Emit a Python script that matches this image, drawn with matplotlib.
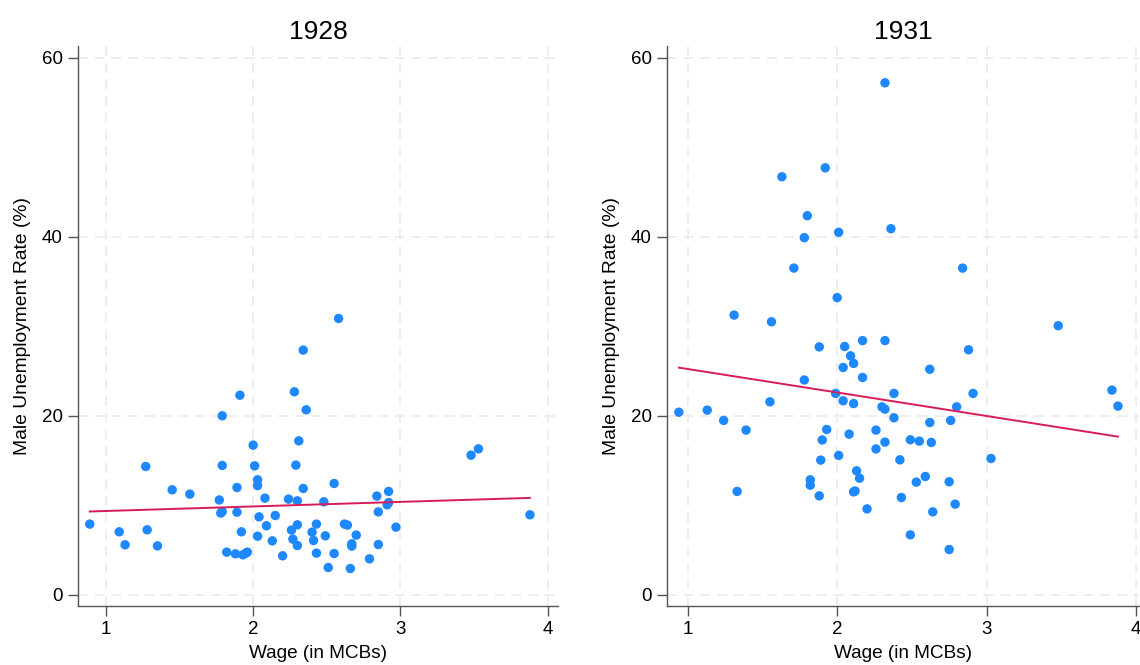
import numpy as np
import matplotlib
matplotlib.use("Agg")
import matplotlib.pyplot as plt

plt.rcParams['font.family'] = ['Liberation Sans', 'DejaVu Sans']

# ---- data: 1928 ----
wage_1928 = [0.89, 1.09, 1.13, 1.27, 1.28, 1.35, 1.45, 1.57, 1.77, 1.78, 1.79, 1.79, 1.79,
             1.82, 1.88, 1.89, 1.89, 1.91, 1.92, 1.93, 1.95, 1.96, 2.00, 2.01, 2.03, 2.03,
             2.03, 2.04, 2.08, 2.09, 2.13, 2.15, 2.20, 2.24, 2.26, 2.27, 2.28, 2.29, 2.30,
             2.30, 2.30, 2.31, 2.34, 2.34, 2.36, 2.40, 2.41, 2.43, 2.43, 2.48, 2.49, 2.51,
             2.55, 2.55, 2.58, 2.62, 2.64, 2.66, 2.67, 2.67, 2.70, 2.79, 2.84, 2.85, 2.85,
             2.91, 2.92, 2.92, 2.97, 3.48, 3.53, 3.88]
unemp_1928 = [7.9, 7.04, 5.59, 14.34, 7.26, 5.47, 11.73, 11.25, 10.6, 9.13, 9.3, 20.0, 14.45,
              4.77, 4.58, 11.99, 9.23, 22.3, 7.04, 4.47, 4.65, 4.77, 16.72, 14.41, 12.85, 12.2,
              6.55, 8.71, 10.8, 7.71, 6.03, 8.86, 4.36, 10.69, 7.23, 6.22, 22.68, 14.49, 7.82,
              5.51, 10.5, 17.2, 11.88, 27.34, 20.67, 7.0, 6.07, 7.9, 4.66, 10.39, 6.59, 3.05,
              12.44, 4.61, 30.87, 7.9, 7.79, 2.94, 5.7, 5.44, 6.67, 4.02, 11.03, 9.27, 5.62,
              10.06, 10.31, 11.55, 7.56, 15.6, 16.31, 8.94]

# ---- data: 1931 ----
wage_1931 = [0.94, 1.13, 1.24, 1.31, 1.33, 1.39, 1.55, 1.56, 1.63, 1.71, 1.78, 1.78, 1.80,
             1.82, 1.82, 1.88, 1.88, 1.89, 1.90, 1.92, 1.93, 1.99, 2.00, 2.01, 2.01, 2.04,
             2.04, 2.05, 2.08, 2.09, 2.11, 2.11, 2.11, 2.12, 2.13, 2.15, 2.17, 2.17, 2.20,
             2.26, 2.26, 2.30, 2.32, 2.32, 2.32, 2.32, 2.36, 2.38, 2.38, 2.42, 2.43, 2.49,
             2.49, 2.53, 2.55, 2.59, 2.62, 2.62, 2.63, 2.64, 2.75, 2.75, 2.76, 2.79, 2.80,
             2.84, 2.88, 2.91, 3.03, 3.48, 3.84, 3.88]
unemp_1931 = [20.4, 20.63, 19.48, 31.25, 11.55, 18.4, 21.56, 30.5, 46.7, 36.5, 24.0, 39.9, 42.35,
              12.85, 12.25, 11.06, 27.7, 15.05, 17.3, 47.7, 18.47, 22.5, 33.2, 40.5, 15.57, 25.4,
              21.68, 27.74, 17.95, 26.7, 25.85, 21.37, 11.5, 11.6, 13.85, 13.03, 24.28, 28.4, 9.6,
              18.4, 16.3, 21.0, 57.2, 28.4, 20.74, 17.06, 40.9, 22.5, 19.78, 15.08, 10.87, 17.32,
              6.7, 12.59, 17.17, 13.22, 25.2, 19.25, 17.02, 9.27, 12.63, 5.06, 19.48, 10.13, 21.0,
              36.5, 27.37, 22.5, 15.23, 30.06, 22.87, 21.08]

titles = ["1928", "1931"]
x_ticks = [1, 2, 3, 4]
y_ticks = [0, 20, 40, 60]

dot_color = "#1e88ff"
line_color = "#d81b5a"

fig = plt.figure(figsize=(11.4, 6.65), dpi=100)
ax1 = fig.add_axes([0.0684, 0.0887, 0.421, 0.842])
ax2 = fig.add_axes([0.585, 0.0887, 0.414, 0.842])

panels = [(ax1, wage_1928, unemp_1928, (0.81, 4.07)),
          (ax2, wage_1931, unemp_1931, (0.86, 4.02))]

for (ax, xs, ys, xl), title in zip(panels, titles):
    xs = np.asarray(xs); ys = np.asarray(ys)
    ax.scatter(xs, ys, s=46, color=dot_color, edgecolors='none', zorder=3)
    b, a = np.polyfit(xs, ys, 1)
    xline = np.array([xs.min(), xs.max()])
    ax.plot(xline, a + b * xline, color=line_color, lw=1.4, zorder=4)
    ax.set_xlim(*xl)
    ax.set_ylim(-1.25, 61.3)
    ax.set_xticks(x_ticks)
    ax.set_yticks(y_ticks)
    ax.grid(True, color="#ebebeb", linestyle=(0, (6, 4)), lw=1.2, zorder=0)
    for s in ['top', 'right']:
        ax.spines[s].set_visible(False)
    for s in ['left', 'bottom']:
        ax.spines[s].set_color('#555555')
        ax.spines[s].set_linewidth(1.0)
    ax.tick_params(axis='both', direction='out', length=7, width=1.0,
                   color='#555555', labelsize=13.5, pad=4)
    ax.set_xlabel("Wage (in MCBs)", fontsize=13.7, labelpad=5)
    ax.set_ylabel("Male Unemployment Rate (%)", fontsize=13.9, labelpad=8)
    ax.set_title(title, fontsize=19, pad=5)

fig.savefig("out.png", dpi=100)
